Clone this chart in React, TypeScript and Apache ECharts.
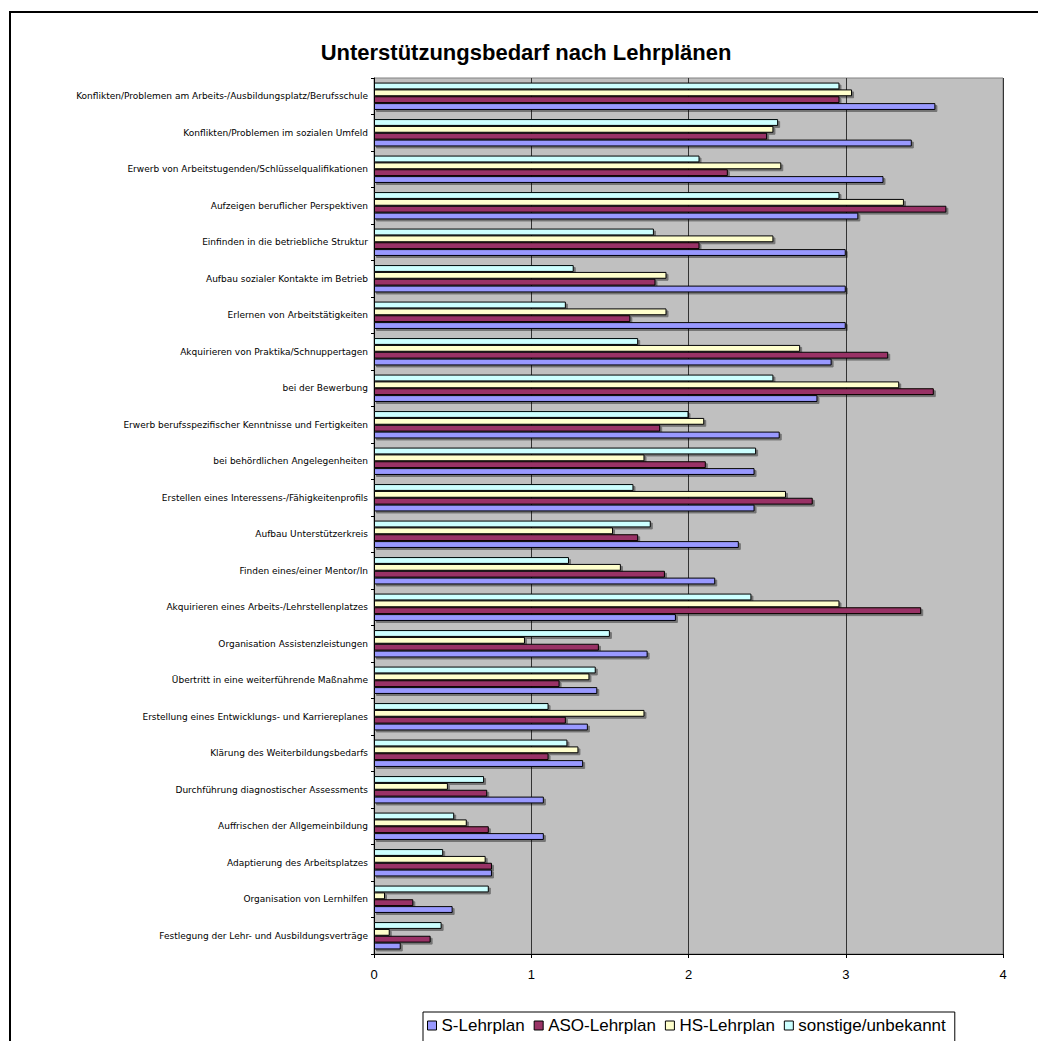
import React, { useEffect, useRef } from "react";
import * as echarts from "echarts";

const categories = [
  "Konflikten/Problemen am Arbeits-/Ausbildungsplatz/Berufsschule",
  "Konflikten/Problemen im sozialen Umfeld",
  "Erwerb von Arbeitstugenden/Schlüsselqualifikationen",
  "Aufzeigen beruflicher Perspektiven",
  "Einfinden in die betriebliche Struktur",
  "Aufbau sozialer Kontakte im Betrieb",
  "Erlernen von Arbeitstätigkeiten",
  "Akquirieren von Praktika/Schnuppertagen",
  "bei der Bewerbung",
  "Erwerb berufsspezifischer Kenntnisse und Fertigkeiten",
  "bei behördlichen Angelegenheiten",
  "Erstellen eines Interessens-/Fähigkeitenprofils",
  "Aufbau Unterstützerkreis",
  "Finden eines/einer Mentor/In",
  "Akquirieren eines Arbeits-/Lehrstellenplatzes",
  "Organisation Assistenzleistungen",
  "Übertritt in eine weiterführende Maßnahme",
  "Erstellung eines Entwicklungs- und Karriereplanes",
  "Klärung des Weiterbildungsbedarfs",
  "Durchführung diagnostischer Assessments",
  "Auffrischen der Allgemeinbildung",
  "Adaptierung des Arbeitsplatzes",
  "Organisation von Lernhilfen",
  "Festlegung der Lehr- und Ausbildungsverträge",
];

const sLehrplan = [3.57, 3.42, 3.24, 3.08, 3.0, 3.0, 3.0, 2.91, 2.82, 2.58, 2.42, 2.42, 2.32, 2.17, 1.92, 1.74, 1.42, 1.36, 1.33, 1.08, 1.08, 0.75, 0.5, 0.17];
const asoLehrplan = [2.96, 2.5, 2.25, 3.64, 2.07, 1.79, 1.63, 3.27, 3.56, 1.82, 2.11, 2.79, 1.68, 1.85, 3.48, 1.43, 1.18, 1.22, 1.11, 0.72, 0.73, 0.75, 0.25, 0.36];
const hsLehrplan = [3.04, 2.54, 2.59, 3.37, 2.54, 1.86, 1.86, 2.71, 3.34, 2.1, 1.72, 2.62, 1.52, 1.57, 2.96, 0.96, 1.37, 1.72, 1.3, 0.47, 0.59, 0.71, 0.07, 0.1];
const sonstige = [2.96, 2.57, 2.07, 2.96, 1.78, 1.27, 1.22, 1.68, 2.54, 2.0, 2.43, 1.65, 1.76, 1.24, 2.4, 1.5, 1.41, 1.11, 1.23, 0.7, 0.51, 0.44, 0.73, 0.43];

const seriesNames = ["S-Lehrplan", "ASO-Lehrplan", "HS-Lehrplan", "sonstige/unbekannt"];
const seriesColors = ["#9999FF", "#993366", "#FFFFCC", "#CCFFFF"];
const seriesValues = [sLehrplan, asoLehrplan, hsLehrplan, sonstige];

const FONT = "Arial, 'Liberation Sans', sans-serif";
const LABEL_FONT = "'DejaVu Sans', Arial, sans-serif";

export default function App() {
  const ref = useRef<HTMLDivElement>(null);

  useEffect(() => {
    if (!ref.current) return;
    const chart = echarts.init(ref.current, undefined, { renderer: "svg" });

    // With the inverted category axis the last series sits at the bottom of
    // each group, so the series are added in reverse (S-Lehrplan lowest).
    const order = [3, 2, 1, 0];

    chart.setOption({
      animation: false,
      backgroundColor: "#FFFFFF",
      textStyle: { fontFamily: FONT },
      graphic: [
        {
          type: "rect",
          shape: { x: 10, y: 12, width: 1100, height: 1100 },
          style: { fill: "none", stroke: "#000000", lineWidth: 2 },
          z: -1,
        },
        {
          type: "text",
          x: 526,
          y: 52,
          style: {
            text: "Unterstützungsbedarf nach Lehrplänen",
            font: `bold 22px ${FONT}`,
            fill: "#000000",
            textAlign: "center",
            textVerticalAlign: "middle",
          },
        },
      ],
      legend: {
        data: seriesNames,
        left: 423,
        top: 1012,
        orient: "horizontal",
        backgroundColor: "#FFFFFF",
        borderColor: "#000000",
        borderWidth: 1,
        padding: [5, 9, 12, 4],
        itemGap: 9,
        itemWidth: 9,
        itemHeight: 9,
        icon: "rect",
        itemStyle: { borderColor: "#000000", borderWidth: 1 },
        textStyle: { fontSize: 17, color: "#000000", fontFamily: FONT },
      },
      grid: {
        left: 374,
        top: 78,
        right: 35,
        bottom: 87,
        show: true,
        backgroundColor: "#C0C0C0",
        borderColor: "#808080",
        borderWidth: 1,
        containLabel: false,
      },
      xAxis: {
        type: "value",
        min: 0,
        max: 4,
        interval: 1,
        axisLine: { show: true, lineStyle: { color: "#000000", width: 1 } },
        axisTick: { show: true, length: 4, lineStyle: { color: "#000000" } },
        axisLabel: { fontSize: 13, color: "#000000", margin: 14, fontFamily: FONT },
        splitLine: { show: true, lineStyle: { color: "#333333", width: 1 } },
      },
      yAxis: {
        type: "category",
        data: categories,
        inverse: true,
        axisLine: { show: true, lineStyle: { color: "#000000", width: 1 } },
        axisTick: { show: true, length: 3, lineStyle: { color: "#000000" } },
        axisLabel: { fontSize: 9, color: "#000000", margin: 6, fontFamily: LABEL_FONT },
        splitLine: { show: false },
      },
      series: order.map((i) => ({
        name: seriesNames[i],
        type: "bar",
        data: seriesValues[i],
        barGap: "0%",
        barCategoryGap: "25%",
        itemStyle: {
          color: seriesColors[i],
          borderColor: "#000000",
          borderWidth: 1,
          shadowColor: "rgba(0,0,0,0.4)",
          shadowOffsetX: 2,
          shadowOffsetY: 2,
          shadowBlur: 1,
        },
      })),
    });
    return () => chart.dispose();
  }, []);

  return (
    <div
      ref={ref}
      style={{ position: "fixed", left: 0, top: 0, width: 1038, height: 1041 }}
    />
  );
}
